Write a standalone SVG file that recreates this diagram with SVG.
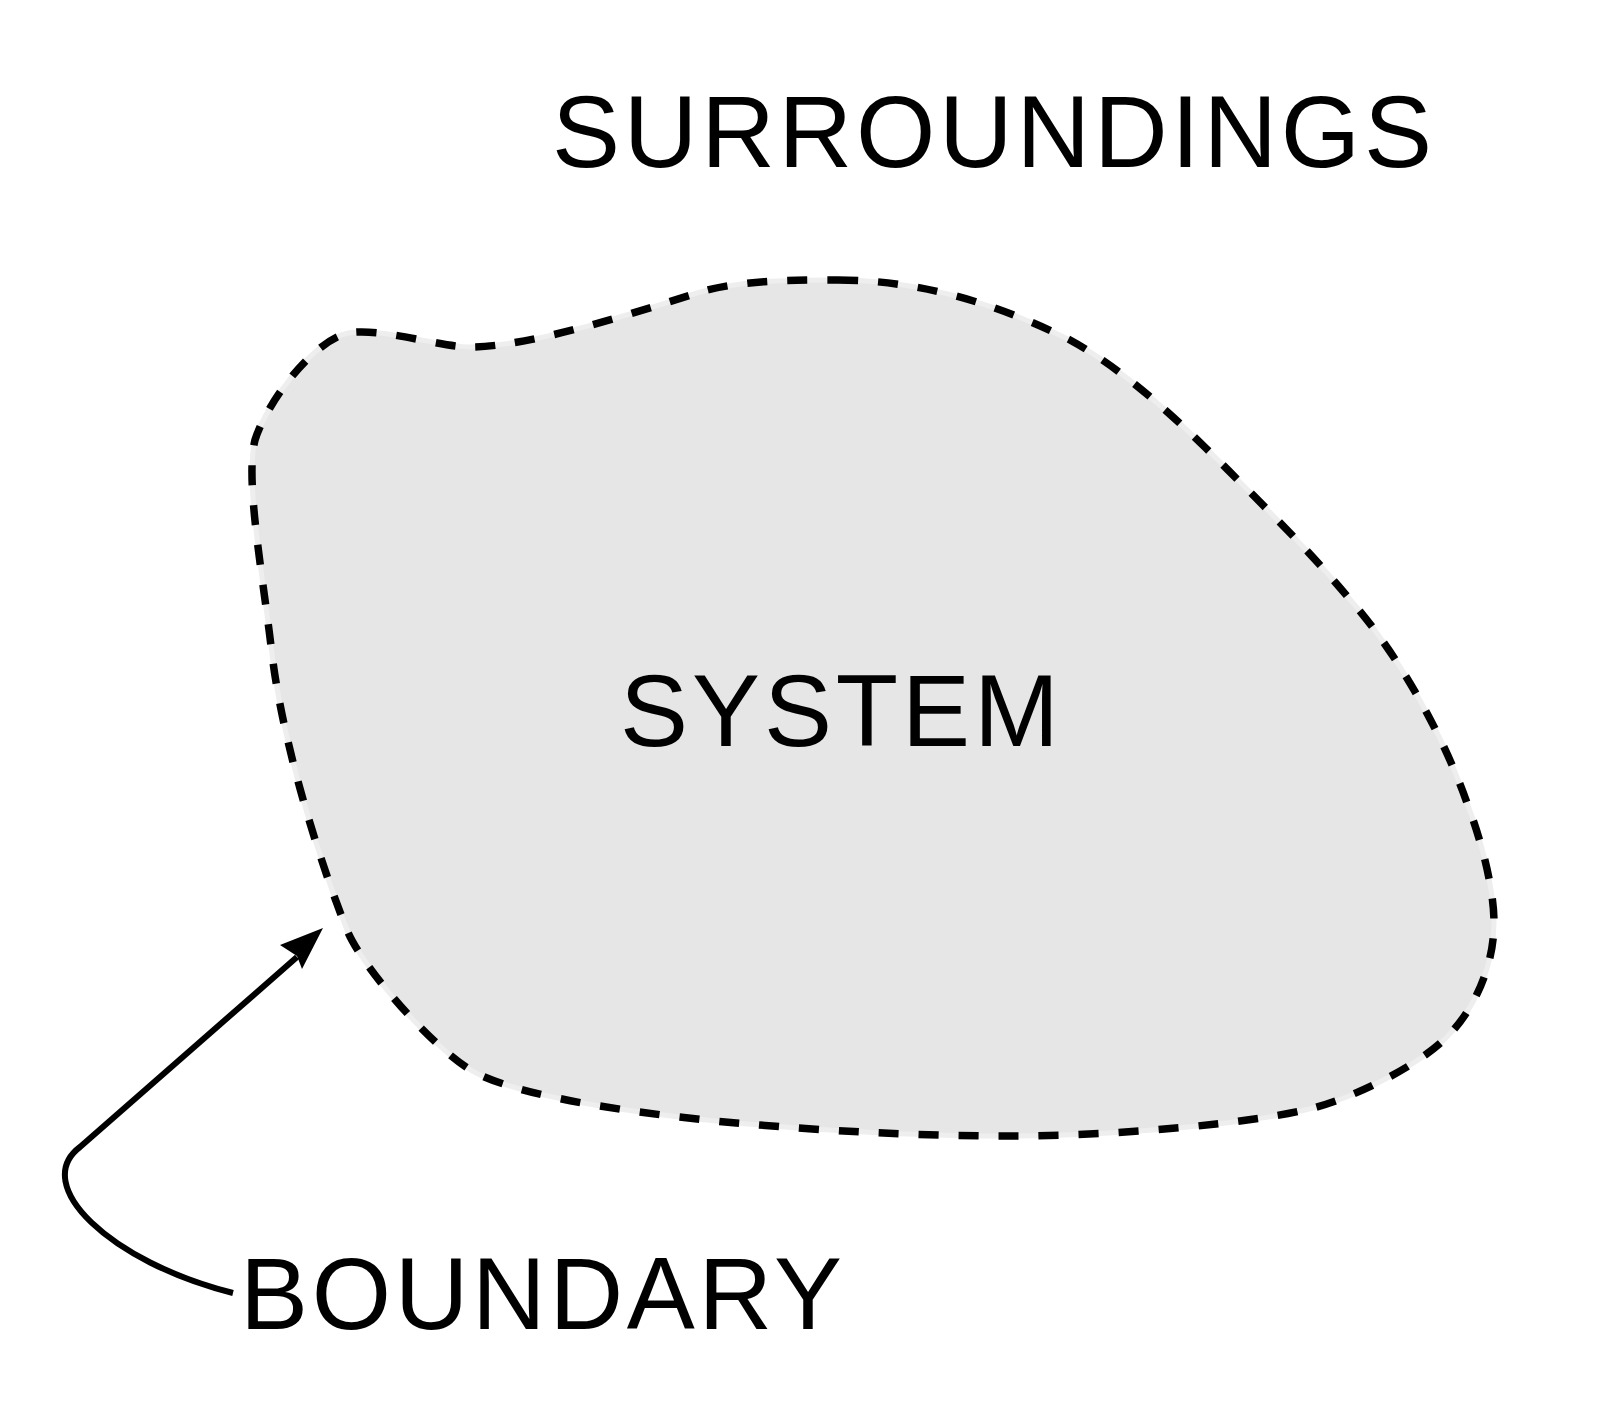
<svg xmlns="http://www.w3.org/2000/svg" width="1600" height="1406" viewBox="0 0 1600 1406">
<style>
.lbl{font-family:"Liberation Sans",Arial,sans-serif;font-size:102px;fill:#000}
.blobfill{fill:#e6e6e6;stroke:#eeeeee;stroke-width:5}
.blobline{fill:none;stroke:#000;stroke-width:7.5;stroke-dasharray:20 20}
.conn{fill:none;stroke:#000;stroke-width:6;stroke-linejoin:round}
</style>
<defs>
<path id="blobPath" d="M838,280 C930,280 1010,310 1070,340 C1125,370 1178,420 1228,470 C1268,510 1312,554 1347,596 C1400,655 1445,740 1467,803 C1479,834 1494,885 1494,923 C1494,965 1475,1009 1447,1037 C1417,1067 1350,1100 1305,1110 C1245,1124 1113,1136 1013,1136 C913,1136 825,1131 725,1122 C645,1114 535,1100 480,1075 C440,1057 362,968 347,930 C317,855 282,739 272,654 C262,569 245,480 255,440 C267,402 313,341 348,333 C380,327 440,347 470,347 C530,347 637,312 697,293 C742,279 800,280 838,280 Z"/>
</defs>
<rect width="1600" height="1406" fill="#fff"/>
<g id="system">
<use href="#blobPath" class="blobfill"/>
<use href="#blobPath" class="blobline"/>
<text class="lbl" x="620" y="746" textLength="439">SYSTEM</text>
</g>
<g id="surroundings">
<text class="lbl" x="552" y="167" textLength="880">SURROUNDINGS</text>
</g>
<g id="boundary">
<text class="lbl" x="240" y="1329" textLength="602">BOUNDARY</text>
</g>
<g id="connectors">
<path class="conn" d="M233,1293 C110,1262 30,1185 80,1147 L297,957"/>
<polygon points="323,928 280,945 297,956 302,969" fill="#000"/>
</g>
</svg>
